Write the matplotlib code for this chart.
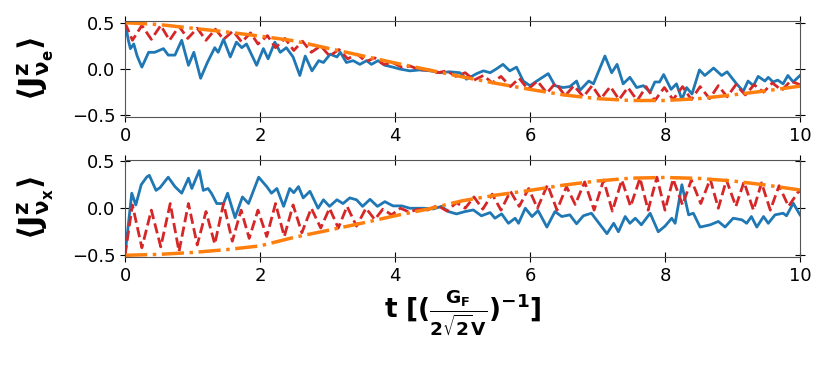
import matplotlib
matplotlib.use("Agg")
from matplotlib import pyplot as plt

# =============================================================================
# Data
# =============================================================================

# dash-dot envelope (orange)
env_t = [0.0, 0.5, 1.0, 1.5, 2.0, 2.5, 3.0, 3.5, 4.0, 4.5, 5.0,
         5.5, 6.0, 6.5, 7.0, 7.5, 8.0, 8.5, 9.0, 9.5, 10.0]
env_e = [0.50, 0.48, 0.44, 0.40, 0.355, 0.305, 0.225, 0.145, 0.065, -0.01, -0.085,
         -0.155, -0.22, -0.28, -0.32, -0.34, -0.34, -0.32, -0.28, -0.235, -0.185]
env_x = [-0.50, -0.49, -0.47, -0.44, -0.40, -0.31, -0.236, -0.16, -0.08, -0.007, 0.08,
         0.14, 0.19, 0.246, 0.29, 0.32, 0.327, 0.317, 0.29, 0.246, 0.194]

# dashed curve (red), extrema of the fast oscillation
red_e_t = [0.0, 0.11, 0.25, 0.39, 0.53, 0.66, 0.80, 0.93, 1.07, 1.20, 1.34, 1.46, 1.60,
           1.73, 1.86, 1.97, 2.11, 2.23, 2.37, 2.50, 2.63, 2.76, 2.90, 3.03, 3.17, 3.30,
           3.44, 3.57, 3.70, 3.83, 3.96, 4.10, 4.23, 4.37, 4.50, 4.63, 4.77, 4.90, 5.04,
           5.17, 5.31, 5.44, 5.57, 5.71, 5.84, 5.97, 6.11, 6.25, 6.38, 6.52, 6.65, 6.79,
           6.92, 7.05, 7.19, 7.32, 7.45, 7.59, 7.72, 7.85, 7.99, 8.12, 8.26, 8.39, 8.52,
           8.66, 8.79, 8.92, 9.05, 9.19, 9.32, 9.46, 9.59, 9.73, 9.86, 10.0]
red_e_v = [0.50, 0.31, 0.47, 0.32, 0.47, 0.31, 0.46, 0.33, 0.44, 0.31, 0.43, 0.32, 0.41,
           0.29, 0.39, 0.27, 0.36, 0.23, 0.33, 0.20, 0.30, 0.18, 0.25, 0.14, 0.21, 0.11,
           0.16, 0.08, 0.12, 0.05, 0.07, 0.02, 0.03, -0.01, -0.01, -0.04, -0.02, -0.08, -0.04,
           -0.12, -0.07, -0.15, -0.08, -0.19, -0.10, -0.22, -0.13, -0.26, -0.15, -0.29, -0.18, -0.30,
           -0.18, -0.32, -0.19, -0.33, -0.20, -0.34, -0.19, -0.34, -0.20, -0.33, -0.19, -0.33, -0.19,
           -0.32, -0.18, -0.30, -0.17, -0.28, -0.17, -0.25, -0.15, -0.23, -0.13, -0.17]

red_x_t = [0.0, 0.11, 0.25, 0.39, 0.53, 0.67, 0.80, 0.94, 1.07, 1.20, 1.33, 1.46, 1.59,
           1.72, 1.84, 1.97, 2.10, 2.23, 2.36, 2.49, 2.62, 2.76, 2.90, 3.03, 3.16, 3.29,
           3.43, 3.57, 3.70, 3.82, 3.95, 4.08, 4.21, 4.35, 4.48, 4.63, 4.77, 4.91, 5.04,
           5.17, 5.30, 5.44, 5.57, 5.71, 5.84, 5.98, 6.11, 6.26, 6.40, 6.54, 6.67, 6.81,
           6.95, 7.09, 7.22, 7.36, 7.49, 7.63, 7.75, 7.88, 8.00, 8.12, 8.26, 8.39, 8.53,
           8.67, 8.79, 8.91, 9.05, 9.17, 9.31, 9.43, 9.56, 9.69, 9.83, 9.98, 10.0]
red_x_v = [-0.50, 0.035, -0.42, -0.02, -0.41, 0.05, -0.46, 0.05, -0.39, -0.035, -0.38, 0.05, -0.35,
           -0.02, -0.32, -0.02, -0.30, 0.05, -0.30, 0.035, -0.26, 0.0, -0.21, 0.0, -0.21, 0.02,
           -0.19, 0.0, -0.12, -0.01, -0.07, 0.0, -0.04, -0.01, -0.02, 0.03, -0.03, 0.06, 0.0,
           0.12, -0.01, 0.15, -0.02, 0.18, 0.02, 0.21, 0.0, 0.25, -0.02, 0.23, 0.04, 0.28,
           -0.02, 0.30, -0.03, 0.30, 0.02, 0.32, -0.02, 0.33, -0.02, 0.31, 0.035, 0.30, 0.05,
           0.31, 0.0, 0.30, 0.02, 0.28, -0.02, 0.27, -0.02, 0.24, 0.02, 0.18, 0.18]

# solid curve (blue)
blue_e_t = [0.0, 0.05, 0.08, 0.13, 0.18, 0.25, 0.35, 0.44, 0.57, 0.64, 0.74, 0.84, 0.94,
            1.02, 1.12, 1.22, 1.33, 1.38, 1.46, 1.56, 1.65, 1.73, 1.80, 1.95, 2.05, 2.12,
            2.22, 2.30, 2.39, 2.49, 2.59, 2.67, 2.77, 2.87, 2.94, 3.04, 3.14, 3.19, 3.28,
            3.38, 3.48, 3.58, 3.65, 3.75, 3.85, 3.97, 4.07, 4.22, 4.37, 4.52, 4.67, 4.81,
            4.96, 5.06, 5.21, 5.31, 5.41, 5.50, 5.60, 5.70, 5.80, 5.90, 6.00, 6.10, 6.27,
            6.37, 6.49, 6.59, 6.69, 6.74, 6.87, 6.94, 7.11, 7.21, 7.29, 7.38, 7.48, 7.58,
            7.68, 7.78, 7.85, 7.92, 7.98, 8.09, 8.17, 8.25, 8.32, 8.40, 8.51, 8.59, 8.72,
            8.84, 8.92, 9.06, 9.16, 9.23, 9.31, 9.38, 9.48, 9.53, 9.60, 9.67, 9.75, 9.82,
            9.90, 10.0]
blue_e_v = [0.50, 0.31, 0.22, 0.27, 0.14, 0.02, 0.18, 0.18, 0.22, 0.15, 0.15, 0.31, 0.04,
            0.18, -0.10, 0.07, 0.23, 0.18, 0.32, 0.13, 0.29, 0.23, 0.27, 0.04, 0.22, 0.11,
            0.29, 0.18, 0.23, 0.13, -0.07, 0.14, -0.02, 0.09, 0.07, 0.16, 0.13, 0.18, 0.07,
            0.09, 0.05, 0.09, 0.05, 0.09, 0.04, 0.02, 0.00, -0.02, -0.01, -0.02, -0.04, -0.03,
            -0.04, -0.11, -0.05, -0.02, -0.04, 0.00, 0.05, -0.02, 0.02, -0.13, -0.18, -0.13, -0.05,
            -0.18, -0.20, -0.19, -0.13, -0.23, -0.13, -0.16, 0.14, -0.04, 0.05, -0.16, -0.09, -0.20,
            -0.18, -0.25, -0.14, -0.14, -0.06, -0.22, -0.16, -0.33, -0.20, -0.27, -0.01, -0.07, 0.01,
            -0.07, -0.03, -0.16, -0.24, -0.13, -0.18, -0.08, -0.13, -0.09, -0.14, -0.12, -0.16, -0.07,
            -0.14, -0.07]

blue_x_t = [0.0, 0.10, 0.16, 0.24, 0.32, 0.36, 0.46, 0.52, 0.64, 0.74, 0.84, 0.94, 0.99,
            1.10, 1.16, 1.23, 1.28, 1.36, 1.46, 1.52, 1.63, 1.74, 1.83, 1.98, 2.10, 2.17,
            2.25, 2.35, 2.44, 2.50, 2.57, 2.64, 2.74, 2.86, 2.94, 3.03, 3.14, 3.23, 3.33,
            3.43, 3.52, 3.63, 3.74, 3.85, 3.97, 4.10, 4.22, 4.42, 4.57, 4.69, 4.79, 4.91,
            5.04, 5.16, 5.28, 5.41, 5.48, 5.58, 5.68, 5.78, 5.83, 5.93, 6.03, 6.12, 6.25,
            6.37, 6.47, 6.59, 6.69, 6.79, 6.91, 7.04, 7.14, 7.24, 7.31, 7.41, 7.48, 7.56,
            7.65, 7.78, 7.90, 8.00, 8.10, 8.15, 8.25, 8.30, 8.35, 8.42, 8.52, 8.67, 8.79,
            8.89, 9.01, 9.14, 9.21, 9.28, 9.36, 9.46, 9.53, 9.63, 9.75, 9.80, 9.90, 10.0]
blue_x_v = [-0.50, 0.16, 0.035, 0.25, 0.33, 0.35, 0.19, 0.22, 0.33, 0.23, 0.16, 0.32, 0.21,
            0.40, 0.19, 0.21, 0.16, 0.05, 0.05, 0.16, -0.10, 0.12, 0.05, 0.33, 0.23, 0.16,
            0.21, 0.02, 0.21, 0.165, 0.23, 0.11, 0.18, 0.00, 0.09, 0.02, 0.09, 0.05, 0.11,
            0.09, 0.02, 0.095, 0.02, 0.07, 0.025, 0.025, 0.00, 0.00, -0.007, 0.02, -0.035, -0.06,
            -0.035, -0.018, -0.08, -0.046, -0.106, -0.06, -0.16, -0.106, -0.16, 0.00, -0.088, -0.025, -0.20,
            -0.035, -0.088, -0.07, -0.165, -0.08, -0.053, -0.176, -0.27, -0.16, -0.25, -0.088, -0.16, -0.106,
            -0.176, -0.053, -0.25, -0.19, -0.106, -0.16, 0.25, 0.088, -0.07, -0.053, -0.20, -0.176, -0.14,
            -0.20, -0.106, -0.123, -0.16, -0.088, -0.20, -0.088, -0.16, -0.07, -0.053, -0.08, 0.053, -0.07]

XTICKS = [0, 2, 4, 6, 8, 10]
YTICKS = [-0.5, 0.0, 0.5]

# =============================================================================
# Plot
# =============================================================================

fig = plt.figure(figsize=(8.3, 3.74), dpi=100)
ax1 = fig.add_axes([125 / 830, 1 - 117 / 374, 675 / 830, 96 / 374])
ax2 = fig.add_axes([125 / 830, 1 - 257 / 374, 675 / 830, 97.5 / 374])

panels = [
    (ax1, blue_e_t, blue_e_v, red_e_t, red_e_v, env_e, r'$\mathbf{\langle J^z_{\nu_e} \rangle}$'),
    (ax2, blue_x_t, blue_x_v, red_x_t, red_x_v, env_x, r'$\mathbf{\langle J^z_{\nu_x} \rangle}$'),
]

for ax, bt, bv, rt, rv, ev, lab in panels:
    ax.plot(bt, bv, color="tab:blue", lw=2)
    ax.plot(rt, rv, "--", color="tab:red", lw=2)
    ax.plot(env_t, ev, "-.", color="tab:orange", lw=2.5)
    ax.set_xlim(0, 10)
    ax.set_ylim(-0.518, 0.518)
    ax.set_xticks(XTICKS)
    ax.set_yticks(YTICKS)
    ax.tick_params(direction="inout", length=7, labelsize=13, top=True, right=True)
    for sp in ax.spines.values():
        sp.set_color("#555555")
    ax.set_ylabel(lab, fontsize=22, labelpad=11)

ax2.set_xlabel(r'$\mathbf{t\ [(\frac{G_F}{2\sqrt{2}V})^{-1}]}$', fontsize=19, labelpad=2)

plt.savefig("out.png", dpi=100)
plt.close()
